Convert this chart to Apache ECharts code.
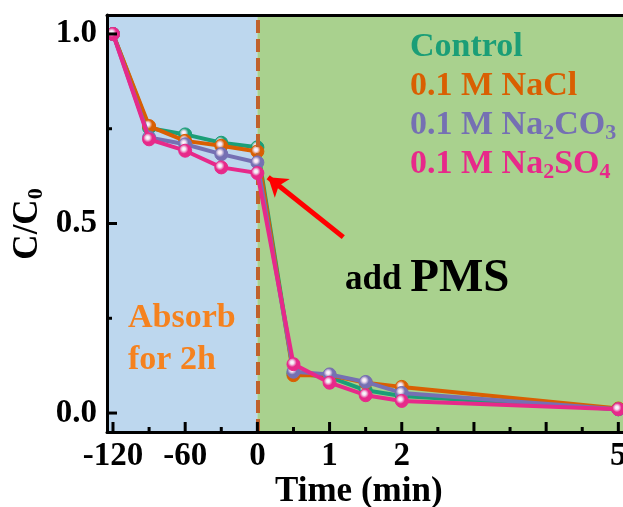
<!DOCTYPE html>
<html><head><meta charset="utf-8">
<script src="https://cdn.jsdelivr.net/npm/echarts@6/dist/echarts.min.js"></script>
<style>html,body{margin:0;padding:0;background:#fff;overflow:hidden;width:623px;height:507px}#c{width:623px;height:507px}</style>
</head><body><div id="c"></div>
<script>
// ---- data ----
const times = [-120, -90, -60, -30, 0, 0.5, 1, 1.5, 2, 5];           // minutes
const control = [1.0, 0.752, 0.735, 0.713, 0.701, 0.105, 0.095, 0.060, 0.045, 0.010];
const nacl    = [1.0, 0.757, 0.718, 0.705, 0.690, 0.100, 0.100, 0.080, 0.069, 0.012];
const na2co3  = [1.0, 0.727, 0.709, 0.683, 0.661, 0.109, 0.102, 0.082, 0.053, 0.010];
const na2so4  = [1.0, 0.722, 0.692, 0.648, 0.633, 0.129, 0.080, 0.047, 0.032, 0.010];
const seriesNames = ['Control', '0.1 M NaCl', '0.1 M Na2CO3', '0.1 M Na2SO4'];
const xMajorTicks = [-120, -60, 0, 1, 2, 3, 4, 5];
const xLabelTicks = [-120, -60, 0, 1, 2, 5];
const xMinorTicks = [-90, -30, 0.5, 1.5, 2.5, 3.5, 4.5];
const yMajorTicks = [0, 0.5, 1.0];
const yMinorTicks = [0.25, 0.75];

// broken time axis: adsorption stage (60 min = 1 unit), reaction stage (1 min = 1 unit)
const tx = t => t < 0 ? t / 60 : t;
const inv = v => v < 0 ? Math.round(v * 60) : Math.round(v * 100) / 100;

const colors = ['#1B9E77', '#D95F02', '#7570B3', '#E7298A'];
const FONT = 'Liberation Serif';
const XMIN = -2.083, XMAX = 5.12, YMIN = -0.05, YMAX = 1.05;

function sphere(c) {
  return { type: 'radial', x: 0.4, y: 0.38, r: 0.6,
    colorStops: [{ offset: 0, color: '#ffffff' }, { offset: 0.22, color: '#f0e0f0' }, { offset: 0.55, color: c }, { offset: 1, color: c }] };
}
function mk(name, vals, i) {
  return {
    name, type: 'line', data: times.map((t, k) => [tx(t), vals[k]]),
    symbol: 'circle', symbolSize: 13, z: 3 + i,
    lineStyle: { color: colors[i], width: 4 },
    itemStyle: { color: sphere(colors[i]), borderColor: colors[i], borderWidth: 1 },
    emphasis: { disabled: true }
  };
}
// tick marks: one list per kind, placed through the axes' scales
const tickSets = [
  { vals: xMajorTicks.map(tx), dir: 'x', len: 10 },
  { vals: xMinorTicks.map(tx), dir: 'x', len: 5 },
  { vals: yMajorTicks, dir: 'y', len: 10 },
  { vals: yMinorTicks, dir: 'y', len: 5 }
];
function tickSeries(set) {
  return { type: 'custom', z: 15, silent: true, clip: false,
    data: set.vals.map(v => [v]), encode: { x: 0 },
    renderItem: function (params, api) {
      const v = api.value(0);
      if (set.dir === 'x') {
        const p = api.coord([v, YMIN]);
        return { type: 'rect', shape: { x: p[0] - 1.5, y: p[1] - set.len, width: 3, height: set.len }, style: { fill: '#000' } };
      }
      const p = api.coord([XMIN, v]);
      return { type: 'rect', shape: { x: p[0], y: p[1] - 1.5, width: set.len, height: 3 }, style: { fill: '#000' } };
    } };
}

const chart = echarts.init(document.getElementById('c'), null, { renderer: 'canvas', width: 623, height: 507 });
const lab = { fontFamily: FONT, fontWeight: 'bold', fontSize: 33, color: '#000' };
chart.setOption({
  animation: false,
  grid: { left: 107, right: -4, top: 15, bottom: 75, containLabel: false, outerBoundsMode: 'none' },
  xAxis: [
    { type: 'value', min: XMIN, max: XMAX, position: 'bottom', z: 20,
      axisLine: { show: true, onZero: false, lineStyle: { color: '#000', width: 3 } },
      axisTick: { show: false },
      axisLabel: Object.assign({ margin: 8, customValues: xLabelTicks.map(tx), formatter: v => String(inv(v)) }, lab),
      splitLine: { show: false } },
    { type: 'value', min: XMIN, max: XMAX, position: 'top', z: 20,
      axisLine: { show: true, onZero: false, lineStyle: { color: '#000', width: 3 } },
      axisTick: { show: false }, axisLabel: { show: false }, splitLine: { show: false } }
  ],
  yAxis: [
    { type: 'value', min: YMIN, max: YMAX, position: 'left', z: 20,
      axisLine: { show: true, onZero: false, lineStyle: { color: '#000', width: 3 } },
      axisTick: { show: false },
      axisLabel: Object.assign({ margin: 10, customValues: yMajorTicks, formatter: v => v.toFixed(1) }, lab),
      splitLine: { show: false } }
  ],
  series: [
    { type: 'line', data: [], z: 1, silent: true,
      markArea: { silent: true, data: [
        [{ xAxis: XMIN, itemStyle: { color: '#BDD7EE' } }, { xAxis: 0 }],
        [{ xAxis: 0, itemStyle: { color: '#A9D18E' } }, { xAxis: XMAX }]
      ] },
      markLine: { silent: true, symbol: 'none', label: { show: false },
        lineStyle: { color: '#C0612B', width: 4, type: [13, 6] },
        data: [{ xAxis: 0 }] } },
    mk(seriesNames[0], control, 0),
    mk(seriesNames[1], nacl, 1),
    mk(seriesNames[2], na2co3, 2),
    mk(seriesNames[3], na2so4, 3)
  ].concat(tickSets.map(tickSeries)).concat([
    { type: 'line', data: [], z: 10, silent: true,
      markLine: { silent: true, symbol: ['none', 'arrow'], symbolSize: [18, 18], label: { show: false },
        lineStyle: { color: '#FF0000', width: 5, type: 'solid' },
        data: [[{ coord: [1.19, 0.464] }, { coord: [0.15, 0.622] }]] } }
  ]),
  graphic: [
    { type: 'text', left: 410, top: 30, z: 50, style: { text: 'Control', fill: colors[0], font: 'bold 34px "Liberation Serif"' } },
    { type: 'text', left: 410, top: 69, z: 50, style: { text: '0.1 M NaCl', fill: colors[1], font: 'bold 34px "Liberation Serif"' } },
    { type: 'text', left: 410, top: 108, z: 50, style: { text: '{a|0.1 M Na}{s|2}{a|CO}{s|3}', rich: {
        a: { fill: colors[2], fontFamily: FONT, fontWeight: 'bold', fontSize: 34 },
        s: { fill: colors[2], fontFamily: FONT, fontWeight: 'bold', fontSize: 22, padding: [16, 0, 0, 0] } } } },
    { type: 'text', left: 410, top: 147, z: 50, style: { text: '{a|0.1 M Na}{s|2}{a|SO}{s|4}', rich: {
        a: { fill: colors[3], fontFamily: FONT, fontWeight: 'bold', fontSize: 34 },
        s: { fill: colors[3], fontFamily: FONT, fontWeight: 'bold', fontSize: 22, padding: [16, 0, 0, 0] } } } },
    { type: 'text', left: 345, top: 255, z: 50, style: { text: '{a|add }{b|PMS}', rich: {
        a: { fill: '#000', fontFamily: FONT, fontWeight: 'bold', fontSize: 35, verticalAlign: 'bottom', padding: [0, 0, 5, 0] },
        b: { fill: '#000', fontFamily: FONT, fontWeight: 'bold', fontSize: 47, verticalAlign: 'bottom' } } } },
    { type: 'text', left: 128, top: 301, z: 50, style: { text: 'Absorb', fill: '#F5821F', font: 'bold 34px "Liberation Serif"' } },
    { type: 'text', left: 128, top: 343, z: 50, style: { text: 'for 2h', fill: '#F5821F', font: 'bold 34px "Liberation Serif"' } },
    { type: 'text', left: 275, top: 474, z: 50, style: { text: 'Time (min)', fill: '#000', font: 'bold 35px "Liberation Serif"' } },
    { type: 'text', x: 28, y: 224, rotation: Math.PI / 2, z: 50, style: { text: '{a|C/C}{s|0}', align: 'center', verticalAlign: 'middle', rich: {
        a: { fill: '#000', fontFamily: FONT, fontWeight: 'bold', fontSize: 35 },
        s: { fill: '#000', fontFamily: FONT, fontWeight: 'bold', fontSize: 22, padding: [16, 0, 0, 0] } } } }
  ]
});
</script></body></html>
